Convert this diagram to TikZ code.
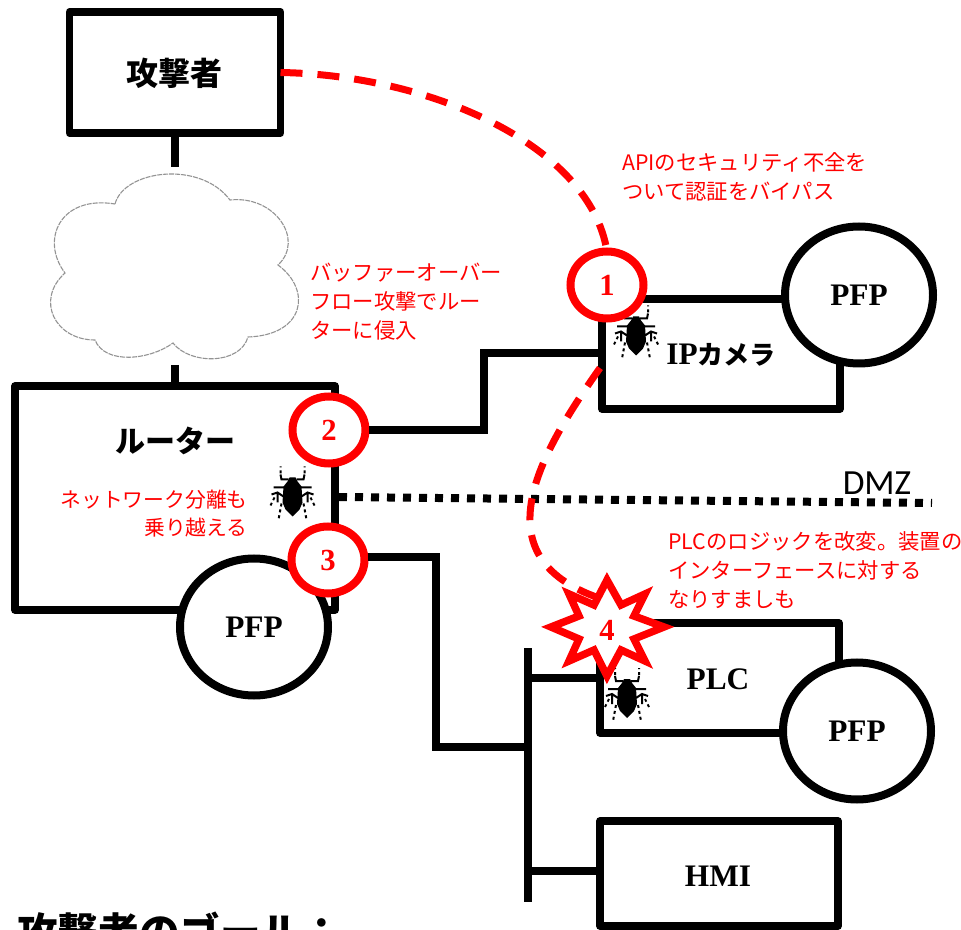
\documentclass[tikz,border=0pt]{standalone}
\usetikzlibrary{shapes.geometric}
\usepackage{fontspec}
\setmainfont{Liberation Serif}
\newfontfamily\jp{Noto Sans CJK JP}
\newfontfamily\dmzfont{Carlito}
\def\pxs{0.75pt}
\tikzset{
 net/.style={draw=black,line width=7.5*\pxs,fill=white,inner sep=0pt,outer sep=0pt,line join=round,rectangle},
 wire/.style={draw=black,line width=7.5*\pxs,line join=miter},
 pfp/.style={draw=black,line width=8*\pxs,fill=white,ellipse,inner sep=0pt,outer sep=0pt,minimum width=148*\pxs,minimum height=137*\pxs,font=\fontsize{23.5pt}{24pt}\selectfont\bfseries},
 numc/.style={draw=red,line width=8*\pxs,fill=white,ellipse,inner sep=0pt,outer sep=0pt,minimum width=73*\pxs,minimum height=67*\pxs,text=red,font=\fontsize{23pt}{24pt}\selectfont\bfseries},
 blab/.style={text=black,font=\fontsize{23.5pt}{24pt}\selectfont\bfseries},
 jlab/.style={text=black,font=\jp\bfseries\fontsize{22.5pt}{24pt}\selectfont},
 rednote/.style={text=red,inner sep=0pt,font=\jp\fontsize{16pt}{21.8pt}\selectfont,align=left},
 attack/.style={draw=red,line width=7*\pxs,dash pattern=on 22*\pxs off 15*\pxs},
 bug/.pic={
  \fill[black] (-3,-17)--(3,-17)--(5,-13)--(9,-8)--(10,8)--(7,15)--(0,22)--(-7,15)--(-10,8)--(-9,-8)--(-5,-13)--cycle;
  \draw[black,line width=2*\pxs] (-4,-15)--(-11,-15)--(-12,-20) (4,-15)--(11,-15)--(12,-20)
    (-8,-7)--(-19,-7) (8,-7)--(19,-7)
    (-9,2)--(-15,-2)--(-21,0) (9,2)--(15,-2)--(21,0)
    (-15,-2)--(-15,8) (15,-2)--(15,8);
  \draw[black,line width=2*\pxs,dash pattern=on 3*\pxs off 3*\pxs] (-11,9)--(-14,25) (11,9)--(14,25) (-12,-21)--(-12,-28) (12,-21)--(12,-28) (-18,3)--(-22,11) (18,3)--(22,11);
 }
}
\begin{document}
\begin{tikzpicture}[x=0.75pt,y=-0.75pt]
\clip (0,0) rectangle (961,930);
\fill[white] (0,0) rectangle (961,930);
% boxes
\node[net,minimum width=211*\pxs,minimum height=121*\pxs] (attacker) at (175,72.5) {};
\node[jlab,font=\jp\bfseries\fontsize{24pt}{24pt}\selectfont] (attackerlab) at (174,73) {攻撃者};
\node[inner sep=0pt,outer sep=0pt,minimum width=254*\pxs,minimum height=198*\pxs] (cloud) at (175,266) {};
\node[net,minimum width=320*\pxs,minimum height=224*\pxs] (router) at (175,498) {};
\node[net,minimum width=238*\pxs,minimum height=110*\pxs] (cam) at (721,354) {};
\node[net,minimum width=239*\pxs,minimum height=110*\pxs] (plc) at (719.5,678) {};
\node[net,minimum width=238*\pxs,minimum height=105*\pxs] (hmi) at (719,873.5) {};
% cloud
\draw[gray!85,fill=white,line width=1.1*\pxs,dash pattern=on 5*\pxs off 1*\pxs]
 (115,204) .. controls (124,170) and (200,160) .. (230,200)
 .. controls (275,195) and (305,240) .. (278,265)
 .. controls (312,290) and (305,335) .. (248,337)
 .. controls (240,365) and (190,365) .. (173,343)
 .. controls (150,360) and (105,365) .. (95,340)
 .. controls (55,340) and (35,300) .. (65,273)
 .. controls (40,240) and (60,195) .. (115,204) -- cycle;
% connectors
\draw[wire] (attacker.south) -- (cloud.north);
\draw[wire] (cloud.south) -- (router.north);
\node[pfp] (pfpcam) at (859,295) {PFP};
\node[pfp] (pfprouter) at (254,627) {PFP};
\node[pfp] (pfpplc) at (857,731) {PFP};
\coordinate (j1) at (484,430);
\coordinate (j2) at (484,353);
\coordinate (j3) at (436,557);
\coordinate (j4) at (436,747);
\coordinate (bustop) at (528,648);
\coordinate (busbot) at (528,902);
\coordinate (busa) at (528,747);
\coordinate (busb) at (528,678);
\coordinate (busc) at (528,871);
\coordinate (dmzend) at (932,503);
\coordinate (dmzstart) at (339,497);
\draw[wire,line width=8*\pxs] (bustop) -- (busbot);
\node[numc] (n2) at (329,430) {2};
\node[numc] (n3) at (328,560) {3};
\draw[wire] ([xshift=3.5*\pxs]n2.east) -- (j1) -- (j2) -- (cam.west |- j2);
\draw[wire] ([xshift=3*\pxs]n3.east |- j3) -- (j3) -- (j4) -- (busa);
\draw[wire] (busb) -- (plc.west |- busb);
\draw[wire] (busc) -- (hmi.west |- busc);
\draw[black,line width=8*\pxs,dash pattern=on 8*\pxs off 8*\pxs] (dmzstart) -- (dmzend);
\node[text=black,inner sep=0pt,font=\dmzfont\fontsize{26.5pt}{28pt}\selectfont] (dmz) at (877,483) {DMZ};
% bugs
\pic at (636,333.5) {bug};
\pic at (292.5,494.5) {bug};
\pic at (627,696) {bug};
% labels
\node[blab] (camlab) at (721,355) {IP{\jp\bfseries\fontsize{19.5pt}{24pt}\selectfont カメラ}};
\node[jlab] (routerlab) at (175,441) {ルーター};
\node[blab] (plclab) at (718,679) {PLC};
\node[blab] (hmilab) at (718,876) {HMI};
% attack curves
\node[numc] (n1) at (607,285) {1};
\coordinate (c2start) at (600,368);
\node[inner sep=0pt,outer sep=0pt] (starpt) at (605,600) {};
\draw[attack] (attacker.east) .. controls (430,75) and (590,145) .. (n1.north);
\draw[attack] (c2start) .. controls (535,460) and (480,560) .. (starpt);
\draw[red,line width=7.5*\pxs,fill=white,miter limit=10]
 (664,627)--(634,616)--(645,594)--(621,605)--(607,580)--(594,605)--(569,594)--(579,616)--(551,627)--(579,639)--(569,661)--(594,650)--(607,676)--(621,650)--(645,661)--(634,639)--cycle;
\node[inner sep=0pt,text=red,font=\fontsize{23pt}{24pt}\selectfont\bfseries] (n4) at (607,630) {4};
% notes
\node[rednote,anchor=north west] (note1) at (622,152.5) {APIのセキュリティ不全を\\ついて認証をバイパス};
\node[rednote,anchor=north west] (note2) at (310,262.5) {バッファーオーバー\\フロー攻撃でルー\\ターに侵入};
\node[rednote,anchor=north east,align=right,font=\jp\fontsize{15.6pt}{20.5pt}\selectfont] (note3) at (248,490) {ネットワーク分離も\\乗り越える};
\node[rednote,anchor=north west] (note4) at (668,531.5) {PLCのロジックを改変。装置の\\インターフェースに対する\\なりすましも};
\node[anchor=west,inner sep=0pt,font=\jp\bfseries\fontsize{30.5pt}{31pt}\selectfont] (goal) at (17,932) {攻撃者のゴール：};
\end{tikzpicture}
\end{document}
